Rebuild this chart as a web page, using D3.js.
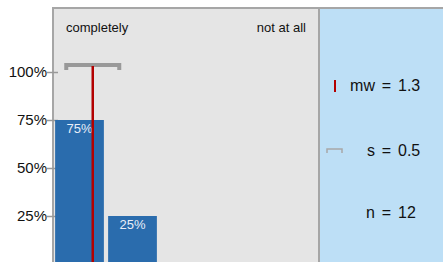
<!DOCTYPE html>
<html>
<head>
<meta charset="utf-8">
<script src="https://cdn.jsdelivr.net/npm/d3@7"></script>
<style>
  body { margin: 0; background: #fff; }
  svg { display: block; font-family: "Liberation Sans", Arial, sans-serif; }
</style>
</head>
<body>
<svg id="chart"></svg>
<script>
// answer categories 1..5, share of answers per category
let categories = [1, 2, 3, 4, 5];
let shares = [0.75, 0.25, 0, 0, 0];
let yTicks = [0.25, 0.5, 0.75, 1];
let poleLabels = ["completely", "not at all"];
let meanValue = 1.25;
let sdValue = 0.5;
let statLabels = ["mw", "s", "n"];
let statValues = ["1.3", "0.5", "12"];

window.addEventListener('load', e => {
    drawChart();
});

function drawChart() {
    let width = 443;
    let height = 262;
    let left = 53;
    let right = 318;
    let top = 8;

    let svg = d3.select("#chart")
        .attr("width", width)
        .attr("height", height);

    let xScale = d3.scaleBand()
        .domain(categories)
        .range([left, right])
        .paddingInner(0.08)
        .paddingOuter(0.04);

    let xValue = d3.scaleLinear()
        .domain([0.5, 5.5])
        .range([left, right]);

    let yScale = d3.scaleLinear()
        .domain([0, 1])
        .range([264, 72]);

    // panels
    svg.append("rect")
        .attr("x", left).attr("y", top)
        .attr("width", right - left).attr("height", height - top)
        .attr("fill", "#e5e5e5");
    svg.append("rect")
        .attr("x", right + 2).attr("y", top)
        .attr("width", width - right - 2).attr("height", height - top)
        .attr("fill", "#bddff6");

    // borders
    svg.append("line")
        .attr("x1", left - 1).attr("x2", width)
        .attr("y1", top).attr("y2", top)
        .attr("stroke", "#a6a6a6").attr("stroke-width", 2);
    svg.append("line")
        .attr("x1", left).attr("x2", left)
        .attr("y1", top).attr("y2", height)
        .attr("stroke", "#a6a6a6").attr("stroke-width", 2);
    svg.append("line")
        .attr("x1", right + 1).attr("x2", right + 1)
        .attr("y1", top).attr("y2", height)
        .attr("stroke", "#a6a6a6").attr("stroke-width", 2);

    // y axis
    let yAxis = svg.append("g")
        .attr("transform", "translate(" + (left + 5) + ",0)")
        .call(d3.axisLeft(yScale).tickValues(yTicks).tickFormat(d3.format(".0%")).tickSize(11));
    yAxis.select(".domain").remove();
    yAxis.selectAll(".tick line").attr("stroke", "#999").attr("stroke-width", 1.5);
    yAxis.selectAll(".tick text")
        .attr("x", -11)
        .attr("font-size", 15)
        .attr("font-family", "Liberation Sans, Arial, sans-serif")
        .attr("fill", "#111");

    // bars
    let data = categories.map((c, i) => ({cat: c, share: shares[i]}));
    svg.selectAll(".bar")
        .data(data.filter(d => d.share > 0))
        .enter()
        .append("rect")
        .attr("class", "bar")
        .attr("x", d => xScale(d.cat))
        .attr("y", d => yScale(d.share))
        .attr("width", xScale.bandwidth())
        .attr("height", d => yScale(0) - yScale(d.share))
        .attr("fill", "#2a6cad");

    svg.selectAll(".barlabel")
        .data(data.filter(d => d.share > 0))
        .enter()
        .append("text")
        .attr("x", d => xScale(d.cat) + xScale.bandwidth() / 2)
        .attr("y", d => yScale(d.share) + 13)
        .attr("text-anchor", "middle")
        .attr("font-size", 13)
        .attr("fill", "#e8eef8")
        .text(d => d3.format(".0%")(d.share));

    // standard deviation bracket
    let bx0 = xValue(meanValue - sdValue);
    let bx1 = xValue(meanValue + sdValue);
    let by = yScale(1) - 7;
    svg.append("path")
        .attr("d", "M" + bx0 + "," + (by + 5) + "V" + by + "H" + bx1 + "V" + (by + 5))
        .attr("fill", "none")
        .attr("stroke", "#999")
        .attr("stroke-width", 4);

    // mean line
    svg.append("line")
        .attr("x1", xValue(meanValue)).attr("x2", xValue(meanValue))
        .attr("y1", by + 1).attr("y2", height)
        .attr("stroke", "#b30000").attr("stroke-width", 2.5);

    // pole labels
    svg.append("text")
        .attr("x", 66).attr("y", 32)
        .attr("font-size", 13).attr("fill", "#111")
        .text(poleLabels[0]);
    svg.append("text")
        .attr("x", 306).attr("y", 32)
        .attr("text-anchor", "end")
        .attr("font-size", 13).attr("fill", "#111")
        .text(poleLabels[1]);

    // statistics panel
    let statY = [85, 150, 212];
    let stats = svg.selectAll(".stat")
        .data(statLabels)
        .enter()
        .append("g")
        .attr("transform", (d, i) => "translate(0," + statY[i] + ")");
    stats.append("text")
        .attr("x", 375).attr("dy", "0.35em")
        .attr("text-anchor", "end")
        .attr("font-size", 16).attr("fill", "#111")
        .text(d => d);
    stats.append("text")
        .attr("x", 386.5).attr("dy", "0.35em")
        .attr("text-anchor", "middle")
        .attr("font-size", 16).attr("fill", "#111")
        .text("=");
    stats.append("text")
        .attr("x", 398).attr("dy", "0.35em")
        .attr("font-size", 16).attr("fill", "#111")
        .text((d, i) => statValues[i]);

    // legend symbols
    svg.append("line")
        .attr("x1", 335).attr("x2", 335)
        .attr("y1", statY[0] - 5).attr("y2", statY[0] + 7)
        .attr("stroke", "#b30000").attr("stroke-width", 2);
    svg.append("path")
        .attr("d", "M327," + (statY[1] + 3) + "V" + (statY[1] - 1) + "H342V" + (statY[1] + 3))
        .attr("fill", "none")
        .attr("stroke", "#a8a8a8")
        .attr("stroke-width", 1.5);
}
</script>
</body>
</html>
